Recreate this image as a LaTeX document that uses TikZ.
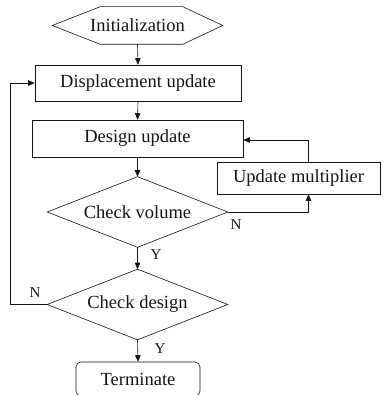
\documentclass[tikz,border=0pt]{standalone}
\usepackage{fontspec}
\setmainfont{Liberation Serif}
\usepackage{tikz}
\usetikzlibrary{arrows.meta}
\definecolor{fcblack}{RGB}{20,20,20}

\begin{document}
\begin{tikzpicture}[x=1pt,y=-1pt,
    line width=0.6pt,
    every node/.style={font=\fontsize{18.5}{20}\selectfont,text=fcblack},
    flowbox/.style={draw=fcblack,rectangle,inner sep=0pt},
    flowcheck/.style={rectangle,inner sep=0pt,minimum width=180pt,minimum height=70pt},
    flowlabel/.style={font=\fontsize{15}{17}\selectfont},
    flowarrow/.style={-{Triangle[length=6.5pt,width=5.5pt]},draw=fcblack}]
    \useasboundingbox (0,0) rectangle (388,395);

    % Define blocks
    \node[inner sep=0pt,minimum width=170pt,minimum height=37pt] (init) at (137.5,25.5) {Initialization};
    \draw[fcblack] (init.west) -- ([xshift=48pt]init.north west) -- ([xshift=-40pt]init.north east)
        -- (init.east) -- ([xshift=-40pt]init.south east) -- ([xshift=48pt]init.south west) -- cycle;
    \node[flowbox,minimum width=206pt,minimum height=36pt] (disp) at (138,83) {Displacement update};
    \node[flowbox,minimum width=211pt,minimum height=37pt] (design) at (137.5,138.5) {Design update};
    \node[flowbox,minimum width=163pt,minimum height=32pt] (mult) at (298.5,178) {Update multiplier};
    \node[flowcheck] (volume) at (137.5,212) {Check volume};
    \draw[fcblack] (volume.west) -- (volume.north) -- (volume.east) -- (volume.south) -- cycle;
    \node[flowcheck] (check) at (137.5,304.5) {Check design};
    \draw[fcblack] (check.west) -- (check.north) -- (check.east) -- (check.south) -- cycle;
    \node[flowbox,rounded corners=5pt,minimum width=124pt,minimum height=34pt] (stop) at (138,379) {Terminate};

    % Draw connectors
    \draw[flowarrow] (init.south) -- (disp.north);
    \draw[flowarrow] (disp.south) -- (design.north);
    \draw[flowarrow] (design.south) -- (volume.north);
    \draw[flowarrow] (volume.south) -- (check.north);
    \draw[flowarrow] (check.south) -- (stop.north);
    \draw[flowarrow] (volume.east) -| ([xshift=10pt]mult.south);
    \draw[flowarrow] ([xshift=10pt]mult.north) |- ([yshift=-1.5pt]design.east);
    \draw[flowarrow] (check.west) -- ++(-37,0) |- (disp.west);

    % Draw labels
    \node[flowlabel] (volN) at (236,225) {N};
    \node[flowlabel] (volY) at (156,255) {Y};
    \node[flowlabel] (chkN) at (35,293) {N};
    \node[flowlabel] (chkY) at (160,349) {Y};
\end{tikzpicture}
\end{document}
